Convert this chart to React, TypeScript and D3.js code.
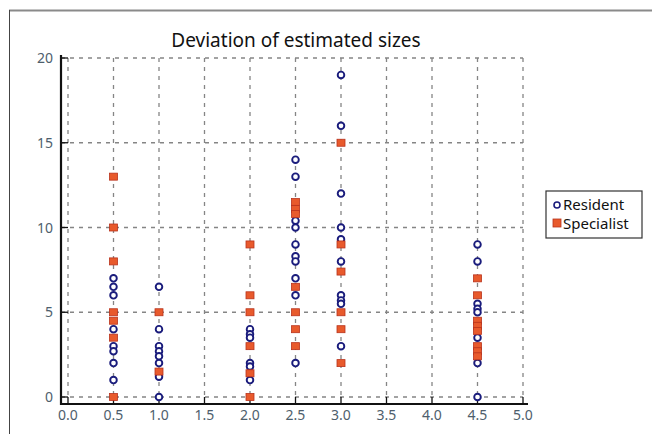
import * as d3 from "d3";

// values: [x, deviation]
const residentPoints: [number, number][] = [
  [0.5, 7], [0.5, 6.5], [0.5, 6], [0.5, 4], [0.5, 3], [0.5, 2.7], [0.5, 2], [0.5, 1],
  [1.0, 6.5], [1.0, 4], [1.0, 3], [1.0, 2.7], [1.0, 2.4], [1.0, 2], [1.0, 1.2], [1.0, 0],
  [2.0, 4], [2.0, 3.7], [2.0, 3.5], [2.0, 2], [2.0, 1.8], [2.0, 1],
  [2.5, 14], [2.5, 13], [2.5, 10.4], [2.5, 10], [2.5, 9], [2.5, 8.3], [2.5, 8], [2.5, 7], [2.5, 6], [2.5, 2],
  [3.0, 19], [3.0, 16], [3.0, 12], [3.0, 10], [3.0, 9.3], [3.0, 8], [3.0, 6], [3.0, 5.7], [3.0, 5.5], [3.0, 3],
  [4.5, 9], [4.5, 8], [4.5, 5.5], [4.5, 5.2], [4.5, 5], [4.5, 3.5], [4.5, 2], [4.5, 0],
];

const specialistPoints: [number, number][] = [
  [0.5, 13], [0.5, 10], [0.5, 8], [0.5, 5], [0.5, 4.5], [0.5, 3.5], [0.5, 0],
  [1.0, 5], [1.0, 1.5],
  [2.0, 9], [2.0, 6], [2.0, 5], [2.0, 3], [2.0, 1.4], [2.0, 0],
  [2.5, 11.5], [2.5, 11.1], [2.5, 10.8], [2.5, 6.5], [2.5, 5], [2.5, 4], [2.5, 3],
  [3.0, 15], [3.0, 9], [3.0, 7.4], [3.0, 5], [3.0, 4], [3.0, 2],
  [4.5, 7], [4.5, 6], [4.5, 4.5], [4.5, 4.2], [4.5, 3.9], [4.5, 3], [4.5, 2.7], [4.5, 2.4],
];

const xTicks = [0, 0.5, 1, 1.5, 2, 2.5, 3, 3.5, 4, 4.5, 5];
const yTicks = [0, 5, 10, 15, 20];
const seriesNames = ["Resident", "Specialist"];
const title = "Deviation of estimated sizes";

const FONT = "'Noto Sans', 'DejaVu Sans', sans-serif";

export default function App() {
  const width = 652;
  const height = 434;

  const x = d3.scaleLinear().domain([0, 5]).range([68, 523]);
  const y = d3.scaleLinear().domain([0, 20]).range([397, 58]);

  const axisX = 61;
  const axisY = 404;

  const grid = "#858585";
  const navy = "#1a1c7c";
  const orange = "#e85a2c";
  const orangeEdge = "#b8321c";

  return (
    <svg
      width={width}
      height={height}
      style={{ position: "absolute", left: 0, top: 0, background: "#fff" }}
      fontFamily={FONT}
    >
      {/* outer frame */}
      <line x1={9} x2={width} y1={10.5} y2={10.5} stroke="#8a8a8a" strokeWidth={2} />
      <line x1={9.5} x2={9.5} y1={10} y2={height} stroke="#444" strokeWidth={1} />

      <text x={296} y={47} textAnchor="middle" fontSize={19} fill="#111">
        {title}
      </text>

      {/* grid */}
      {xTicks.map(t => (
        <line key={"gx" + t} x1={x(t)} x2={x(t)} y1={y(20)} y2={y(0)}
          stroke={grid} strokeWidth={1.3} strokeDasharray="4,5" />
      ))}
      {yTicks.map(t => (
        <line key={"gy" + t} x1={axisX} x2={x(5)} y1={y(t)} y2={y(t)}
          stroke={grid} strokeWidth={1.3} strokeDasharray="4,5" />
      ))}

      {/* axes */}
      <line x1={axisX} x2={axisX} y1={55} y2={axisY + 1} stroke="#111" strokeWidth={2.2} />
      <line x1={axisX - 1} x2={528} y1={axisY} y2={axisY} stroke="#111" strokeWidth={2.2} />
      {xTicks.map(t => (
        <g key={"tx" + t}>
          <line x1={x(t)} x2={x(t)} y1={axisY} y2={axisY - 7} stroke="#111" strokeWidth={1.3} />
          <text x={x(t)} y={420} textAnchor="middle" fontSize={14} fill="#4e5e6c">
            {d3.format(".1f")(t)}
          </text>
        </g>
      ))}
      {yTicks.map(t => (
        <g key={"ty" + t}>
          <line x1={axisX} x2={axisX + 7} y1={y(t)} y2={y(t)} stroke="#111" strokeWidth={1.3} />
          <text x={53} y={y(t) + 5} textAnchor="end" fontSize={14} fill="#4e5e6c">
            {t}
          </text>
        </g>
      ))}

      {/* Resident */}
      {residentPoints.map((d, i) => (
        <circle key={"r" + i} cx={x(d[0])} cy={y(d[1])} r={3.3}
          fill="#fff" stroke={navy} strokeWidth={1.9} />
      ))}

      {/* Specialist */}
      {specialistPoints.map((d, i) => (
        <rect key={"s" + i} x={x(d[0]) - 4} y={y(d[1]) - 3.5} width={8} height={7}
          fill={orange} stroke={orangeEdge} strokeWidth={0.8} />
      ))}

      {/* legend */}
      <rect x={546} y={191} width={96} height={47} fill="#fff" stroke="#333" strokeWidth={1.2} />
      <circle cx={557} cy={205} r={3} fill="#fff" stroke={navy} strokeWidth={1.6} />
      <text x={563} y={210} fontSize={15} fill="#111">{seriesNames[0]}</text>
      <rect x={553} y={219} width={8} height={8} fill={orange} stroke={orangeEdge} strokeWidth={0.8} />
      <text x={563} y={229} fontSize={15} fill="#111">{seriesNames[1]}</text>
    </svg>
  );
}
